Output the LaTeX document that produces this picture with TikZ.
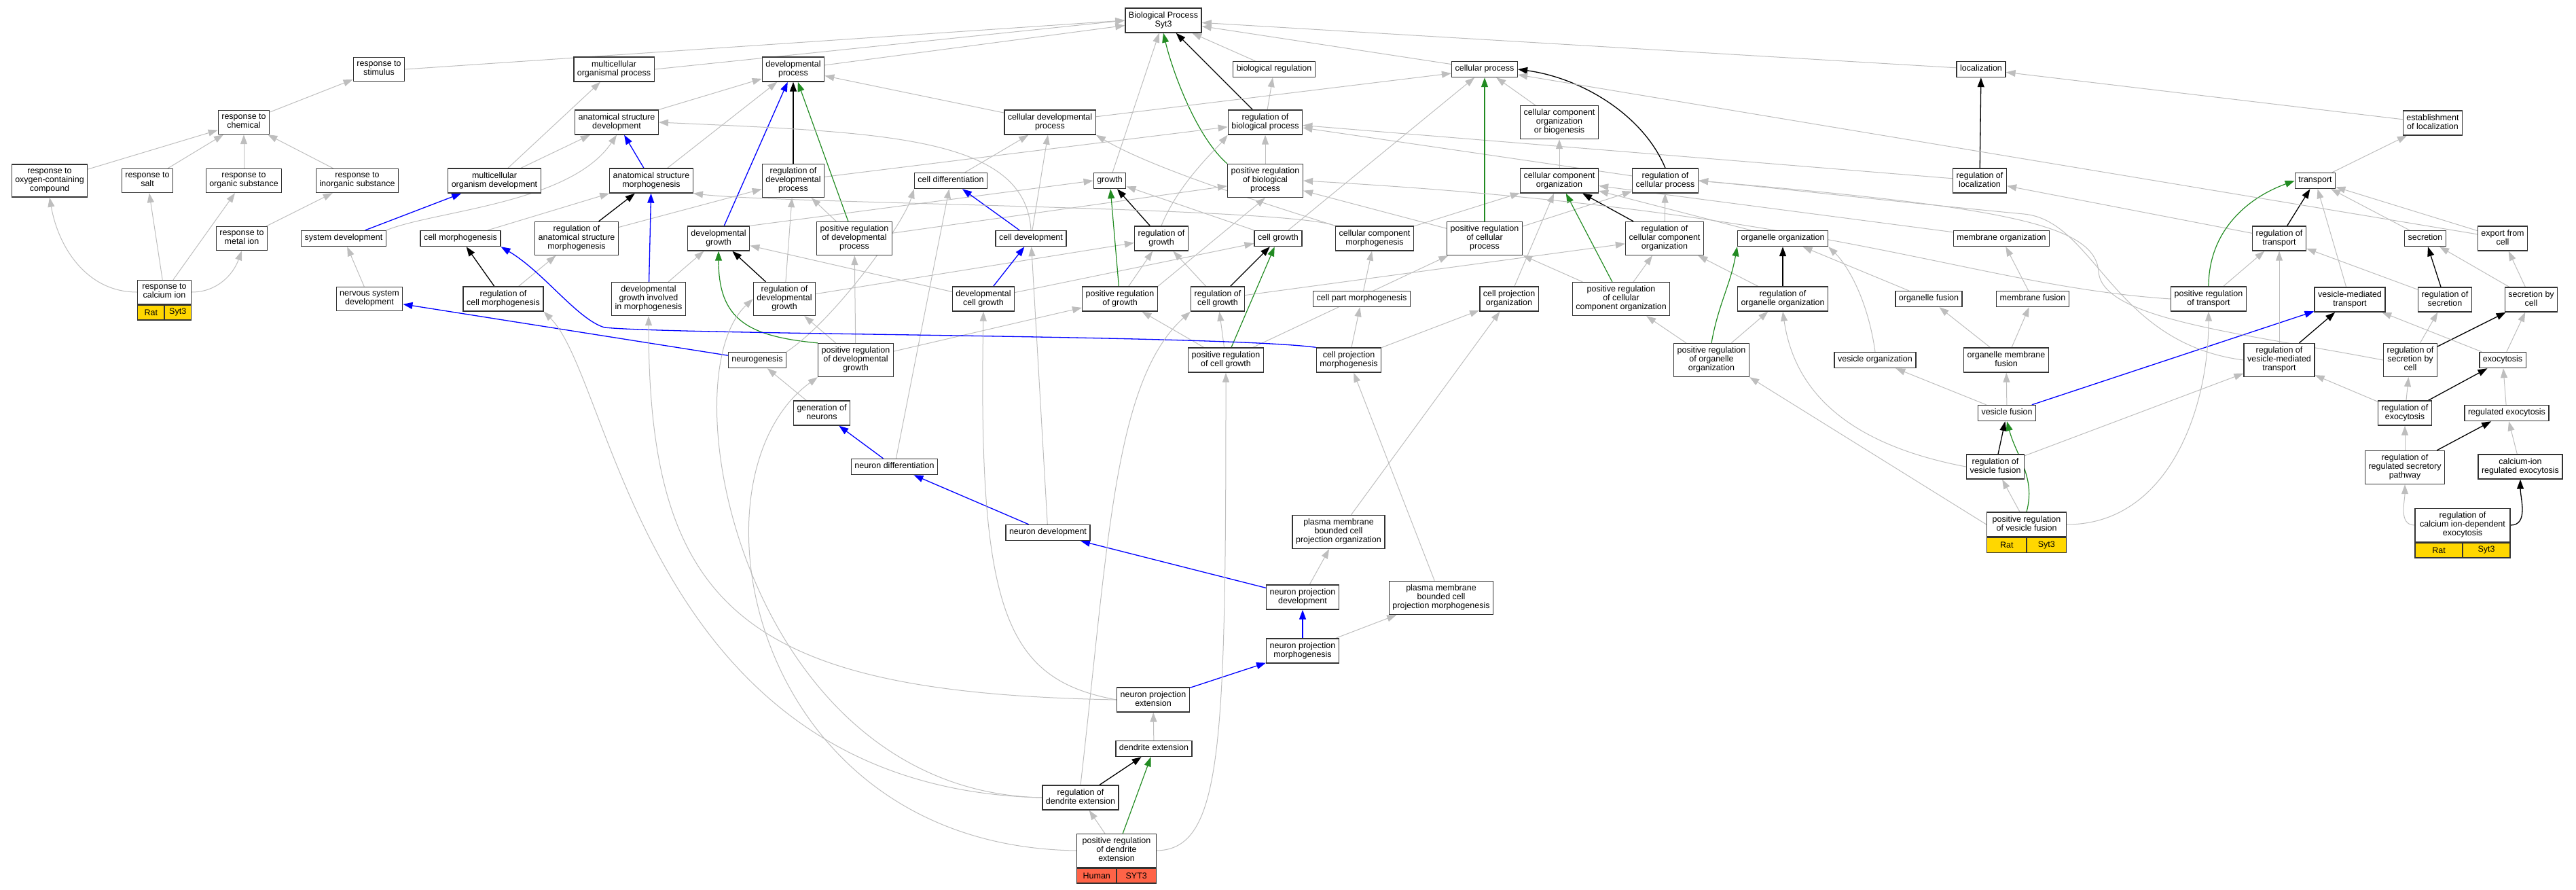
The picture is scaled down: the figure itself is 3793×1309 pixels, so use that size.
\documentclass[tikz,border=0pt]{standalone}
\usepackage{fontspec}
\setmainfont{Liberation Sans}
\usetikzlibrary{arrows.meta,backgrounds}
\definecolor{edgegray}{RGB}{190,190,190}
\definecolor{posgreen}{RGB}{34,139,34}
\definecolor{partblue}{RGB}{0,0,255}
\definecolor{ratgold}{RGB}{255,215,0}
\definecolor{humanred}{RGB}{255,99,71}

\begin{document}
\begin{tikzpicture}[
  x=1pt, y=-1pt,
  term/.style={draw=black!80, line width=1.4pt, fill=white, align=center, inner xsep=5pt, inner ysep=5pt,
    minimum height=23pt, font=\fontsize{12.5}{13}\selectfont, execute at begin node=\strut, execute at end node=\strut},
  genebox/.style={draw=black!80, line width=1.4pt, minimum height=22pt, inner sep=0pt, font=\fontsize{12.5}{13}\selectfont},
  rat/.style={genebox, fill=ratgold},
  human/.style={genebox, fill=humanred},
  isa/.style={draw=edgegray, line width=1pt, -{Triangle[length=14pt,width=10pt]}},
  regl/.style={draw=black, line width=1.3pt, -{Triangle[length=14pt,width=10pt]}},
  posr/.style={draw=posgreen, line width=1.2pt, -{Triangle[length=14pt,width=10pt]}},
  partof/.style={draw=partblue, line width=1.3pt, -{Triangle[length=14pt,width=10pt]}}
  ]
  \useasboundingbox (0,0) rectangle (3793,1309);

  \node[term] (bp) at (1713,30) {Biological Process\\Syt3};
  \node[term] (stim) at (558,102) {response to\\stimulus};
  \node[term] (mop) at (904,102) {multicellular\\organismal process};
  \node[term] (devp) at (1168,102) {developmental\\process};
  \node[term] (bioreg) at (1876,102) {biological regulation};
  \node[term] (cellp) at (2186,102) {cellular process};
  \node[term] (loc) at (2917,102) {localization};
  \node[term] (chem) at (359,180) {response to\\chemical};
  \node[term] (asd) at (908,180) {anatomical structure\\development};
  \node[term] (cdp) at (1546,180) {cellular developmental\\process};
  \node[term] (rbp) at (1863,180) {regulation of\\biological process};
  \node[term] (ccob) at (2296,180) {cellular component\\organization\\or biogenesis};
  \node[term] (estloc) at (3582,181) {establishment\\of localization};
  \node[term] (oxy) at (73,266) {response to\\oxygen-containing\\compound};
  \node[term] (salt) at (217,266) {response to\\salt};
  \node[term] (orgsub) at (359,266) {response to\\organic substance};
  \node[term] (inorg) at (526,266) {response to\\inorganic substance};
  \node[term] (mod) at (728,266) {multicellular\\organism development};
  \node[term] (asm) at (959,266) {anatomical structure\\morphogenesis};
  \node[term] (rdp) at (1168,266) {regulation of\\developmental\\process};
  \node[term] (cdiff) at (1400,266) {cell differentiation};
  \node[term] (growth) at (1634,266) {growth};
  \node[term] (prbp) at (1863,266) {positive regulation\\of biological\\process};
  \node[term] (cco) at (2296,266) {cellular component\\organization};
  \node[term] (rcp) at (2452,266) {regulation of\\cellular process};
  \node[term] (rloc) at (2915,266) {regulation of\\localization};
  \node[term] (transp) at (3409,266) {transport};
  \node[term] (metal) at (356,351) {response to\\metal ion};
  \node[term] (sysdev) at (506,351) {system development};
  \node[term] (cmorph) at (678,351) {cell morphogenesis};
  \node[term] (rasm) at (849,351) {regulation of\\anatomical structure\\morphogenesis};
  \node[term] (dgrowth) at (1058,351) {developmental\\growth};
  \node[term] (prdp) at (1258,351) {positive regulation\\of developmental\\process};
  \node[term] (cdev) at (1518,351) {cell development};
  \node[term] (rgrowth) at (1710,351) {regulation of\\growth};
  \node[term] (cgrowth) at (1882,351) {cell growth};
  \node[term] (ccmorph) at (2024,351) {cellular component\\morphogenesis};
  \node[term] (prcp) at (2186,351) {positive regulation\\of cellular\\process};
  \node[term] (rcco) at (2451,351) {regulation of\\cellular component\\organization};
  \node[term] (oorg) at (2625,351) {organelle organization};
  \node[term] (morg) at (2947,351) {membrane organization};
  \node[term] (rtransp) at (3356,351) {regulation of\\transport};
  \node[term] (secr) at (3571,351) {secretion};
  \node[term] (export) at (3685,351) {export from\\cell};
  \node[term, minimum width=79pt] (calcium) at (242,430) {response to\\calcium ion};
  \node[rat, minimum width=39.5pt, anchor=north west] (calrat) at (calcium.south west) {Rat};
  \node[rat, minimum width=39.5pt, anchor=north east] (calsyt) at (calcium.south east) {Syt3};
  \node[term] (nsd) at (544,440) {nervous system\\development};
  \node[term] (rcmorph) at (741,440) {regulation of\\cell morphogenesis};
  \node[term] (dgim) at (955,440) {developmental\\growth involved\\in morphogenesis};
  \node[term] (rdg) at (1155,440) {regulation of\\developmental\\growth};
  \node[term] (dcg) at (1448,440) {developmental\\cell growth};
  \node[term] (prg) at (1649,440) {positive regulation\\of growth};
  \node[term] (rcg) at (1793,440) {regulation of\\cell growth};
  \node[term] (cpartm) at (2005,440) {cell part morphogenesis};
  \node[term] (cporg) at (2222,440) {cell projection\\organization};
  \node[term] (prcco) at (2387,440) {positive regulation\\of cellular\\component organization};
  \node[term] (roorg) at (2625,440) {regulation of\\organelle organization};
  \node[term] (ofus) at (2840,440) {organelle fusion};
  \node[term] (mfus) at (2993,440) {membrane fusion};
  \node[term] (prtransp) at (3252,440) {positive regulation\\of transport};
  \node[term] (vmt) at (3460,441) {vesicle-mediated\\transport};
  \node[term] (rsecr) at (3600,441) {regulation of\\secretion};
  \node[term] (sbc) at (3727,441) {secretion by\\cell};
  \node[term] (neurog) at (1115,530) {neurogenesis};
  \node[term] (prdg) at (1260,530) {positive regulation\\of developmental\\growth};
  \node[term] (prcg) at (1805,530) {positive regulation\\of cell growth};
  \node[term] (cpm) at (1986,530) {cell projection\\morphogenesis};
  \node[term] (proorg) at (2520,530) {positive regulation\\of organelle\\organization};
  \node[term] (vorg) at (2761,530) {vesicle organization};
  \node[term] (omf) at (2954,530) {organelle membrane\\fusion};
  \node[term] (rvmt) at (3356,530) {regulation of\\vesicle-mediated\\transport};
  \node[term] (rsbc) at (3549,530) {regulation of\\secretion by\\cell};
  \node[term] (exo) at (3685,530) {exocytosis};
  \node[term] (gen) at (1210,608) {generation of\\neurons};
  \node[term] (vfus) at (2955,608) {vesicle fusion};
  \node[term] (rexo) at (3541,608) {regulation of\\exocytosis};
  \node[term] (regexo) at (3691,608) {regulated exocytosis};
  \node[term] (ndiff) at (1317,687) {neuron differentiation};
  \node[term] (rvfus) at (2938,687) {regulation of\\vesicle fusion};
  \node[term] (rrsp) at (3541,688) {regulation of\\regulated secretory\\pathway};
  \node[term] (caexo) at (3711,687) {calcium-ion\\regulated exocytosis};
  \node[term] (ndev) at (1543,784) {neuron development};
  \node[term] (pmpo) at (1971,783) {plasma membrane\\bounded cell\\projection organization};
  \node[term, minimum width=117pt] (prvfus) at (2984,772) {positive regulation\\of vesicle fusion};
  \node[rat, minimum width=58.5pt, anchor=north west] (vfusrat) at (prvfus.south west) {Rat};
  \node[rat, minimum width=58.5pt, anchor=north east] (vfussyt) at (prvfus.south east) {Syt3};
  \node[term, minimum width=140pt] (rcaexo) at (3626,773) {regulation of\\calcium ion-dependent\\exocytosis};
  \node[rat, minimum width=70pt, anchor=north west] (exorat) at (rcaexo.south west) {Rat};
  \node[rat, minimum width=70pt, anchor=north east] (exosyt) at (rcaexo.south east) {Syt3};
  \node[term] (npd) at (1918,879) {neuron projection\\development};
  \node[term] (pmpm) at (2122,880) {plasma membrane\\bounded cell\\projection morphogenesis};
  \node[term] (npm) at (1918,958) {neuron projection\\morphogenesis};
  \node[term] (npe) at (1698,1030) {neuron projection\\extension};
  \node[term] (dext) at (1699,1102) {dendrite extension};
  \node[term] (rdext) at (1591,1174) {regulation of\\dendrite extension};
  \node[term, minimum width=117pt] (prdext) at (1644,1252) {positive regulation\\of dendrite\\extension};
  \node[human, minimum width=58.5pt, anchor=north west] (dexthuman) at (prdext.south west) {Human};
  \node[human, minimum width=58.5pt, anchor=north east] (dextsyt) at (prdext.south east) {SYT3};

  \begin{scope}[on background layer]
  \draw[isa] (stim.east) -- (bp.west);
  \draw[isa] (mop.east) -- (bp.west);
  \draw[isa] (devp) -- (bp);
  \draw[isa] (bioreg) -- (bp);
  \draw[isa] (cellp) -- (bp);
  \draw[isa] (loc) -- (bp);
  \draw[isa] (growth) -- (bp);
  \draw[regl] (rbp) -- (bp);
  \draw[posr] (prbp.north west) .. controls (1760,200) and (1725,100) .. (bp.south);
  \draw[isa] (chem) -- (stim);
  \draw[isa] (oxy) -- (chem);
  \draw[isa] (salt) -- (chem);
  \draw[isa] (orgsub) -- (chem);
  \draw[isa] (inorg) -- (chem);
  \draw[isa] (metal) -- (inorg);
  \draw[isa] (calcium.west) to[out=180,in=-80] (oxy.south);
  \draw[isa] (calcium) -- (salt);
  \draw[isa] (calcium) -- (orgsub);
  \draw[isa] (calcium.east) to[out=0,in=-110] (metal.south);
  \draw[isa] (mod) -- (mop);
  \draw[isa] (mod) -- (asd);
  \draw[partof] (sysdev) -- (mod);
  \draw[isa] (sysdev.north east) .. controls (640,310) and (840,300) .. (asd.south);
  \draw[isa] (nsd) -- (sysdev);
  \draw[isa] (asd) -- (devp);
  \draw[isa] (asm) -- (devp);
  \draw[partof] (asm) -- (asd);
  \draw[regl] (rasm) -- (asm);
  \draw[isa] (rasm) -- (rdp);
  \draw[isa] (rcmorph) -- (rasm);
  \draw[regl] (rcmorph) -- (cmorph);
  \draw[isa] (cmorph) -- (asm);
  \draw[partof] (dgim) -- (asm);
  \draw[isa] (dgim) -- (dgrowth);
  \draw[partof] (dgrowth) -- (devp);
  \draw[isa] (dgrowth.north east) -- (growth.west);
  \draw[regl] (rdp) -- (devp);
  \draw[isa] (rdp) -- (rbp);
  \draw[posr] (prdp) -- (devp);
  \draw[isa] (prdp) -- (rdp);
  \draw[isa] (prdp) -- (prbp);
  \draw[regl] (rdg) -- (dgrowth);
  \draw[isa] (rdg) -- (rdp);
  \draw[isa] (rdg) -- (rgrowth);
  \draw[posr] (prdg.north west) .. controls (1100,495) and (1058,470) .. (dgrowth.south);
  \draw[isa] (prdg) -- (rdg);
  \draw[isa] (prdg) -- (prdp);
  \draw[isa] (prdg) -- (prg);
  \draw[partof] (neurog) -- (nsd);
  \draw[isa] (neurog.north east) .. controls (1230,470) and (1330,330) .. (cdiff.south west);
  \draw[isa] (gen) -- (neurog);
  \draw[partof] (ndiff) -- (gen);
  \draw[isa] (ndiff) -- (cdiff);
  \draw[partof] (ndev) -- (ndiff);
  \draw[isa] (ndev) -- (cdev);
  \draw[partof] (cdev) -- (cdiff);
  \draw[isa] (cdev) -- (cdp);
  \draw[isa] (cdev.north) .. controls (1510,200) and (1300,195) .. (asd.east);
  \draw[isa] (cdiff) -- (cdp);
  \draw[isa] (cdp) -- (devp);
  \draw[isa] (cdp) -- (cellp);
  \draw[partof] (dcg) -- (cdev);
  \draw[isa] (dcg) -- (dgrowth);
  \draw[isa] (dcg) -- (cgrowth);
  \draw[regl] (rgrowth) -- (growth);
  \draw[isa] (rgrowth.north) .. controls (1735,270) and (1790,220) .. (rbp.south west);
  \draw[posr] (prg) -- (growth);
  \draw[isa] (prg) -- (rgrowth);
  \draw[isa] (prg.north east) -- (prbp.south);
  \draw[regl] (rcg) -- (cgrowth);
  \draw[isa] (rcg) -- (rgrowth);
  \draw[isa] (rcg) -- (rcco);
  \draw[isa] (cgrowth) -- (growth);
  \draw[isa] (cgrowth) -- (cellp);
  \draw[posr] (prcg) -- (cgrowth);
  \draw[isa] (prcg) -- (rcg);
  \draw[isa] (prcg) -- (prg);
  \draw[isa] (prcg) -- (prcp);
  \draw[partof] (cpm.north west) .. controls (1800,493) and (1000,493) .. (890,482) .. controls (850,470) and (800,400) .. (cmorph.south east);
  \draw[isa] (cpm) -- (cpartm);
  \draw[isa] (cpm) -- (cporg);
  \draw[isa] (cpartm) -- (ccmorph);
  \draw[isa] (ccmorph.north west) .. controls (1900,305) and (1150,300) .. (asm.south east);
  \draw[isa] (ccmorph.north west) .. controls (1880,305) and (1700,250) .. (cdp.south east);
  \draw[isa] (ccmorph) -- (cco);
  \draw[isa] (cporg) -- (cco);
  \draw[isa] (pmpo) -- (cporg);
  \draw[partof] (npd) -- (ndev);
  \draw[isa] (npd) -- (pmpo);
  \draw[isa] (pmpm) -- (cpm);
  \draw[partof] (npm) -- (npd);
  \draw[isa] (npm) -- (pmpm);
  \draw[partof] (npe) -- (npm);
  \draw[isa] (npe.west) .. controls (1480,1000) and (1440,900) .. (dcg.south);
  \draw[isa] (npe.west) .. controls (1100,1020) and (955,900) .. (dgim.south);
  \draw[isa] (dext) -- (npe);
  \draw[regl] (rdext) -- (dext);
  \draw[isa] (rdext.north) .. controls (1632,800) and (1640,560) .. (rcg.south west);
  \draw[isa] (rdext.west) .. controls (1100,1165) and (980,560) .. (rdg.west);
  \draw[isa] (rdext.west) .. controls (950,1160) and (904,560) .. (rcmorph.south east);
  \draw[posr] (prdext) -- (dext);
  \draw[isa] (prdext) -- (rdext);
  \draw[isa] (prdext.east) .. controls (1800,1250) and (1805,1100) .. (prcg.south);
  \draw[isa] (prdext.west) .. controls (1100,1245) and (1004,700) .. (prdg.south west);
  \draw[isa] (rbp) -- (bioreg);
  \draw[isa] (prbp) -- (rbp);
  \draw[isa] (rcp) -- (rbp);
  \draw[isa] (rloc) -- (rbp);
  \draw[regl] (rcp.north) .. controls (2420,170) and (2330,115) .. (cellp.east);
  \draw[posr] (prcp) -- (cellp);
  \draw[isa] (prcp) -- (rcp);
  \draw[isa] (prcp) -- (prbp);
  \draw[isa] (ccob) -- (cellp);
  \draw[isa] (cco) -- (ccob);
  \draw[regl] (rcco) -- (cco);
  \draw[isa] (rcco) -- (rcp);
  \draw[posr] (prcco) -- (cco);
  \draw[isa] (prcco) -- (rcco);
  \draw[isa] (prcco) -- (prcp);
  \draw[isa] (oorg) -- (cco);
  \draw[isa] (morg) -- (cco);
  \draw[regl] (roorg) -- (oorg);
  \draw[isa] (roorg) -- (rcco);
  \draw[posr] (proorg.north) to[out=80,in=-100] (oorg.south west);
  \draw[isa] (proorg) -- (roorg);
  \draw[isa] (proorg) -- (prcco);
  \draw[isa] (ofus) -- (oorg);
  \draw[isa] (vorg.north) .. controls (2750,440) and (2720,390) .. (oorg.south east);
  \draw[isa] (vfus) -- (vorg);
  \draw[isa] (vfus) -- (omf);
  \draw[partof] (vfus) -- (vmt);
  \draw[isa] (omf) -- (ofus);
  \draw[isa] (omf) -- (mfus);
  \draw[isa] (mfus) -- (morg);
  \draw[regl] (rvfus) -- (vfus);
  \draw[isa] (rvfus.west) .. controls (2700,650) and (2640,560) .. (roorg.south);
  \draw[isa] (rvfus) -- (rvmt);
  \draw[posr] (prvfus.north) to[out=75,in=-75] (vfus.south);
  \draw[isa] (prvfus) -- (rvfus);
  \draw[isa] (prvfus.west) -- (proorg.south east);
  \draw[isa] (prvfus.east) to[out=0,in=-90] (prtransp.south);
  \draw[regl] (rloc) -- (loc);
  \draw[isa] (estloc) -- (loc);
  \draw[isa] (transp) -- (estloc);
  \draw[regl] (rtransp) -- (transp);
  \draw[isa] (rtransp) -- (rloc);
  \draw[posr] (prtransp.north) to[out=90,in=200] (transp.west);
  \draw[isa] (prtransp) -- (rtransp);
  \draw[isa] (prtransp.west) .. controls (2900,420) and (2700,310) .. (prbp.east);
  \draw[isa] (vmt) -- (transp);
  \draw[isa] (secr) -- (transp);
  \draw[isa] (export) -- (transp);
  \draw[isa] (export) -- (cellp);
  \draw[regl] (rsecr) -- (secr);
  \draw[isa] (rsecr) -- (rtransp);
  \draw[isa] (sbc) -- (secr);
  \draw[isa] (sbc) -- (export);
  \draw[regl] (rvmt) -- (vmt);
  \draw[isa] (rvmt) -- (rtransp);
  \draw[isa] (rvmt.west) .. controls (3110,505) and (3085,325) .. (2980,315) .. controls (2800,298) and (2600,275) .. (rcp.east);
  \draw[regl] (rsbc) -- (sbc);
  \draw[isa] (rsbc) -- (rsecr);
  \draw[isa] (rsbc.west) .. controls (3300,490) and (3095,470) .. (3090,400) .. controls (3085,330) and (2950,305) .. (rcp.east);
  \draw[isa] (exo) -- (vmt);
  \draw[isa] (exo) -- (sbc);
  \draw[regl] (rexo) -- (exo);
  \draw[isa] (rexo) -- (rsbc);
  \draw[isa] (rexo) -- (rvmt);
  \draw[isa] (regexo) -- (exo);
  \draw[isa] (rrsp) -- (rexo);
  \draw[regl] (rrsp) -- (regexo);
  \draw[isa] (caexo) -- (regexo);
  \draw[isa] (rcaexo.west) to[out=180,in=-90] (rrsp.south);
  \draw[regl] (rcaexo.east) to[out=0,in=-90] (caexo.south);
  \end{scope}
\end{tikzpicture}
\end{document}
